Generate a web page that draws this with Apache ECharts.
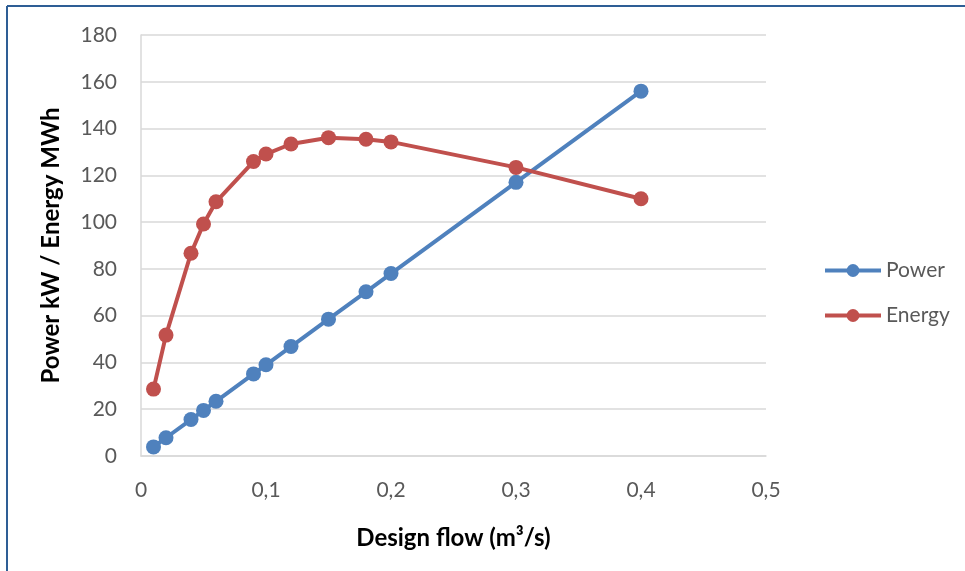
<!DOCTYPE html>
<html>
<head>
<meta charset="utf-8">
<script src="https://cdn.jsdelivr.net/npm/echarts@6/dist/echarts.min.js"></script>
<style>
html,body{margin:0;padding:0;background:#fff;}
#chart{width:965px;height:571px;}
</style>
</head>
<body>
<div id="chart"></div>
<script>
const flows = [0.01, 0.02, 0.04, 0.05, 0.06, 0.09, 0.10, 0.12, 0.15, 0.18, 0.20, 0.30, 0.40];
const power = [3.9, 7.8, 15.6, 19.5, 23.4, 35.1, 39.0, 46.8, 58.5, 70.2, 78.0, 117.0, 156.0];
const energy = [28.6, 51.7, 86.7, 99.2, 108.7, 125.9, 129.1, 133.4, 136.1, 135.4, 134.3, 123.4, 110.0];
const seriesNames = ['Power', 'Energy'];
const xTitle = 'Design flow (m³/s)';
const yTitle = 'Power kW / Energy MWh';

const FONT = 'Lato, "Open Sans", sans-serif';
const chart = echarts.init(document.getElementById('chart'), null, {renderer: 'canvas'});
const pair = (xs, ys) => xs.map((x, i) => [x, ys[i]]);

chart.setOption({
  animation: false,
  backgroundColor: '#fff',
  grid: {left: 141, top: 35, width: 625, height: 421, containLabel: false},
  xAxis: {
    type: 'value', min: 0, max: 0.5, interval: 0.1,
    name: xTitle, nameLocation: 'middle', nameGap: 70,
    nameTextStyle: {fontFamily: FONT, fontWeight: 'bold', fontSize: 24, color: '#000'},
    axisLine: {show: true, lineStyle: {color: '#d9d9d9', width: 1.5}},
    axisTick: {show: false},
    splitLine: {show: false},
    axisLabel: {fontFamily: FONT, fontSize: 21, color: '#595959', margin: 24,
      formatter: v => String(Math.round(v * 10) / 10).replace('.', ',')}
  },
  yAxis: {
    type: 'value', min: 0, max: 180, interval: 20,
    name: yTitle, nameLocation: 'middle', nameGap: 78, nameRotate: 90,
    nameTextStyle: {fontFamily: FONT, fontWeight: 'bold', fontSize: 24, color: '#000'},
    axisLine: {show: true, lineStyle: {color: '#d9d9d9', width: 1.5}},
    axisTick: {show: false},
    splitLine: {show: true, lineStyle: {color: '#d9d9d9', width: 1.5}},
    axisLabel: {fontFamily: FONT, fontSize: 21, color: '#595959', margin: 24}
  },
  legend: {
    orient: 'vertical', left: 818, top: 255,
    itemWidth: 56, itemHeight: 16, itemGap: 24,
    lineStyle: {width: 4},
    textStyle: {fontFamily: FONT, fontSize: 21, color: '#595959'},
    data: seriesNames
  },
  series: [
    {name: seriesNames[0], type: 'line', data: pair(flows, power), symbol: 'circle', symbolSize: 15,
     color: '#4f81bd', lineStyle: {width: 4, color: '#4f81bd'}, itemStyle: {color: '#4f81bd'}, z: 2},
    {name: seriesNames[1], type: 'line', data: pair(flows, energy), symbol: 'circle', symbolSize: 15,
     color: '#c0504d', lineStyle: {width: 4, color: '#c0504d'}, itemStyle: {color: '#c0504d'}, z: 3}
  ],
  graphic: [
    {type: 'line', shape: {x1: 7, y1: 6, x2: 965, y2: 6}, style: {stroke: '#2e5e95', lineWidth: 2}},
    {type: 'line', shape: {x1: 7, y1: 6, x2: 7, y2: 571}, style: {stroke: '#2e5e95', lineWidth: 2}}
  ]
});
</script>
</body>
</html>
